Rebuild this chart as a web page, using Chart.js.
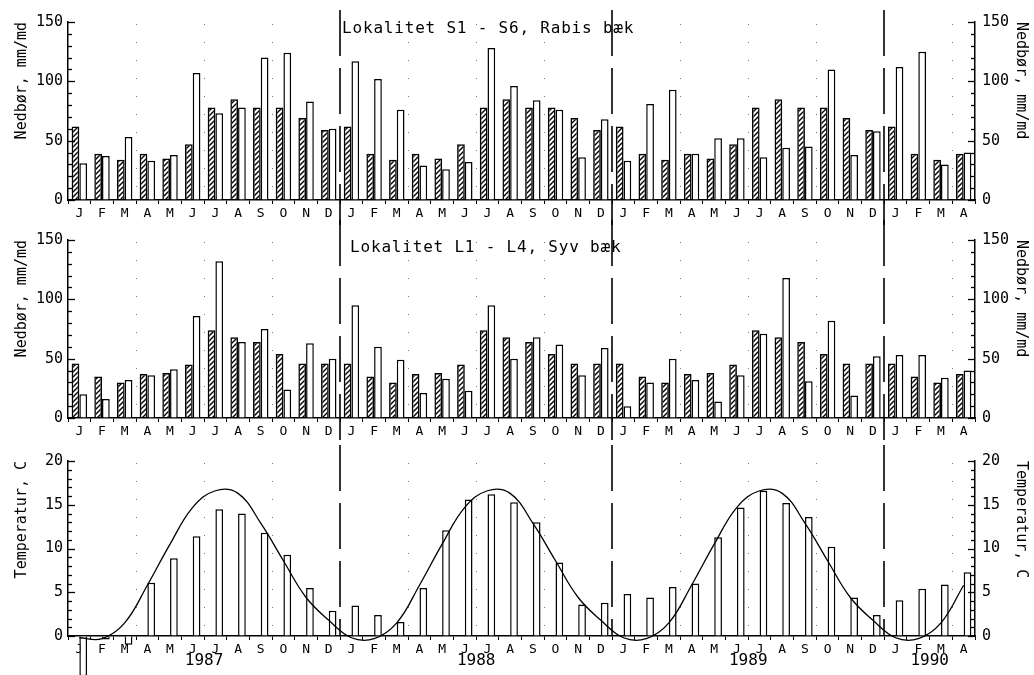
<!DOCTYPE html>
<html lang="da">
<head>
<meta charset="utf-8">
<title>Nedbør og temperatur 1987-1990</title>
<script src="https://cdn.jsdelivr.net/npm/chart.js@4.4.1/dist/chart.umd.min.js"></script>
<style>
  html, body { margin: 0; padding: 0; background: #fff; }
  #wrap { position: relative; width: 1034px; height: 675px; overflow: hidden; }
  canvas { position: absolute; left: 0; }
  #rabisChart { top: 0; }
  #syvChart { top: 220px; }
  #tempChart { top: 445px; }
</style>
</head>
<body>
<div id="wrap">
  <canvas id="rabisChart" width="1034" height="225"></canvas>
  <canvas id="syvChart" width="1034" height="225"></canvas>
  <canvas id="tempChart" width="1034" height="230"></canvas>
</div>
<script>
// ==== DATA ====
const monthLetters = ["J", "F", "M", "A", "M", "J", "J", "A", "S", "O", "N", "D"];
const months = [...monthLetters, ...monthLetters, ...monthLetters, ...monthLetters.slice(0, 4)];
const years = ["1987", "1988", "1989", "1990"];

// Nedbør, Rabis bæk (mm/md): normal (skraveret) og målt (hvid)
const rabisNormal = [
  62, 39, 34, 39, 35, 47, 78, 85, 78, 78, 69, 59,
  62, 39, 34, 39, 35, 47, 78, 85, 78, 78, 69, 59,
  62, 39, 34, 39, 35, 47, 78, 85, 78, 78, 69, 59,
  62, 39, 34, 39
];
const rabisMaalt = [
  31, 37, 53, 33, 38, 107, 73, 78, 120, 124, 83, 60,
  117, 102, 76, 29, 26, 32, 128, 96, 84, 76, 36, 68,
  33, 81, 93, 39, 52, 52, 36, 44, 45, 110, 38, 58,
  112, 125, 30, 40
];

// Nedbør, Syv bæk (mm/md)
const syvNormal = [
  46, 35, 30, 37, 38, 45, 74, 68, 64, 54, 46, 46,
  46, 35, 30, 37, 38, 45, 74, 68, 64, 54, 46, 46,
  46, 35, 30, 37, 38, 45, 74, 68, 64, 54, 46, 46,
  46, 35, 30, 37
];
const syvMaalt = [
  20, 16, 32, 36, 41, 86, 132, 64, 75, 24, 63, 50,
  95, 60, 49, 21, 33, 23, 95, 50, 68, 62, 36, 59,
  10, 30, 50, 32, 14, 36, 71, 118, 31, 82, 19, 52,
  53, 53, 34, 40
];

// Temperatur (C): målt (søjler) og normal (kurve)
const tempMaalt = [
  -4.6, -0.4, -1.0, 6.1, 8.9, 11.4, 14.5, 14.0, 11.8, 9.3, 5.5, 2.9,
  3.5, 2.4, 1.6, 5.5, 12.1, 15.6, 16.2, 15.3, 13.0, 8.4, 3.6, 3.8,
  4.8, 4.4, 5.6, 6.0, 11.3, 14.7, 16.6, 15.2, 13.6, 10.2, 4.4, 2.4,
  4.1, 5.4, 5.9, 7.3
];
const tempNormal = [
  -0.2, -0.3, 1.5, 5.8, 10.5, 14.7, 16.6, 16.3, 12.9, 8.6, 4.4, 1.8,
  -0.2, -0.3, 1.5, 5.8, 10.5, 14.7, 16.6, 16.3, 12.9, 8.6, 4.4, 1.8,
  -0.2, -0.3, 1.5, 5.8, 10.5, 14.7, 16.6, 16.3, 12.9, 8.6, 4.4, 1.8,
  -0.2, -0.3, 1.5, 5.8
];
const emptySlot = months.map(() => null);

const MONO = "'DejaVu Sans Mono', monospace";

// ==== HJÆLPEFUNKTIONER ====
function line(ctx, x1, y1, x2, y2) {
  ctx.beginPath();
  ctx.moveTo(x1, y1);
  ctx.lineTo(x2, y2);
  ctx.stroke();
}

function makeHatch() {
  const c = document.createElement("canvas");
  c.width = 5;
  c.height = 5;
  const g = c.getContext("2d");
  g.strokeStyle = "#000";
  g.lineWidth = 1.4;
  g.beginPath();
  g.moveTo(0, 5); g.lineTo(5, 0);
  g.moveTo(-1, 1); g.lineTo(1, -1);
  g.moveTo(4, 6); g.lineTo(6, 4);
  g.stroke();
  return g.createPattern(c, "repeat");
}

// prikkede hjælpelinjer, stiplede årsskel, indadvendte tick-streger, titler
const panelDecor = {
  id: "panelDecor",
  beforeDatasetsDraw(chart, args, opts) {
    const { ctx, chartArea: a } = chart;
    const x = chart.scales.x;
    ctx.save();
    ctx.strokeStyle = "#777";
    ctx.lineWidth = 1;
    ctx.setLineDash([1, 17]);
    for (let i = 3; i < months.length; i += 3) {
      if (i % 12 === 0) continue;
      const px = Math.round(x.getPixelForValue(i - 0.5)) + 0.5;
      line(ctx, px, a.top + 2, px, a.bottom);
    }
    ctx.strokeStyle = "#000";
    ctx.lineWidth = 1.6;
    ctx.setLineDash([46, 12]);
    for (let i = 12; i < months.length; i += 12) {
      const px = Math.round(x.getPixelForValue(i - 0.5));
      line(ctx, px, opts.sepTop, px, opts.sepToAxis ? a.bottom : chart.height);
    }
    ctx.restore();
  },
  afterDraw(chart, args, opts) {
    const { ctx, chartArea: a } = chart;
    const x = chart.scales.x;
    ctx.save();
    ctx.strokeStyle = "#000";
    ctx.lineWidth = 1.3;
    ["y", "y2"].forEach((id) => {
      const s = chart.scales[id];
      s.ticks.forEach((t) => {
        const py = Math.round(s.getPixelForValue(t.value)) + 0.5;
        const len = t.value % opts.major === 0 ? 7 : 4;
        if (id === "y") line(ctx, a.left, py, a.left + len, py);
        else line(ctx, a.right - len, py, a.right, py);
      });
    });

    ctx.fillStyle = "#000";
    if (opts.title) {
      ctx.font = "16px " + MONO;
      ctx.letterSpacing = "0.8px";
      ctx.textAlign = "left";
      ctx.textBaseline = "middle";
      ctx.fillText(opts.title, x.getPixelForValue(11.5) + opts.titleDx, a.top + opts.titleDy);
    }
    if (opts.years) {
      ctx.font = "16px " + MONO;
      ctx.letterSpacing = "0px";
      ctx.textAlign = "center";
      ctx.textBaseline = "middle";
      years.forEach((yr, i) => {
        const first = 12 * i;
        const last = Math.min(12 * i + 11, months.length - 1);
        ctx.fillText(yr, x.getPixelForValue((first + last) / 2), a.bottom + 25);
      });
    }
    ctx.restore();
  },
};

function yAxis(position, max, step, major, title, width) {
  return {
    type: "linear",
    position: position,
    min: 0,
    max: max,
    afterFit: (s) => { s.width = width; },
    border: { display: true, color: "#000", width: 1.5 },
    grid: { drawOnChartArea: false, drawTicks: false },
    ticks: {
      stepSize: step,
      autoSkip: false,
      padding: position === "left" ? 5 : 7,
      color: "#000",
      font: { family: MONO, size: 15 },
      callback: (v) => (v % major === 0 ? v : ""),
    },
    title: {
      display: true,
      text: title,
      align: "end",
      color: "#000",
      font: { family: MONO, size: 15 },
      padding: { top: position === "left" ? 13 : 4, bottom: 0 },
    },
  };
}

function xAxis(height) {
  return {
    type: "category",
    offset: true,
    afterFit: (s) => { s.height = height; },
    border: { display: true, color: "#000", width: 1.5 },
    grid: { offset: true, drawOnChartArea: false, tickLength: 4, color: "#000" },
    ticks: {
      autoSkip: false,
      maxRotation: 0,
      padding: 2,
      color: "#000",
      font: { family: MONO, size: 13 },
    },
  };
}

function baseOptions(padTop, xHeight, yMax, yStep, yMajor, yTitle, decor) {
  return {
    responsive: false,
    animation: false,
    layout: { padding: { top: padTop, left: 0, right: 0, bottom: 0 } },
    plugins: {
      legend: { display: false },
      tooltip: { enabled: false },
      panelDecor: decor,
    },
    scales: {
      x: xAxis(xHeight),
      y: yAxis("left", yMax, yStep, yMajor, yTitle, 68),
      y2: yAxis("right", yMax, yStep, yMajor, yTitle, 59),
    },
  };
}

// ==== TEGN DIAGRAMMER ====
function renderRain(canvasId, normal, maalt, padTop, xHeight, decor) {
  const hatch = makeHatch();
  new Chart(document.getElementById(canvasId), {
    type: "bar",
    data: {
      labels: months,
      datasets: [
        {
          label: "Normal",
          data: normal,
          backgroundColor: hatch,
          borderColor: "#000",
          borderWidth: 1.5,
          categoryPercentage: 0.68,
          barPercentage: 1.0,
        },
        {
          label: "Målt",
          data: maalt,
          backgroundColor: "#fff",
          borderColor: "#000",
          borderWidth: 1.5,
          categoryPercentage: 0.68,
          barPercentage: 1.0,
        },
      ],
    },
    options: baseOptions(padTop, xHeight, 150, 10, 50, "Nedbør, mm/md", decor),
    plugins: [panelDecor],
  });
}

function renderTemp() {
  new Chart(document.getElementById("tempChart"), {
    type: "bar",
    data: {
      labels: months,
      datasets: [
        {
          type: "line",
          label: "Normal",
          data: tempNormal,
          borderColor: "#000",
          borderWidth: 1.3,
          pointRadius: 0,
          tension: 0.4,
          clip: false,
        },
        {
          label: "",
          data: emptySlot,
          categoryPercentage: 0.68,
          barPercentage: 1.0,
        },
        {
          label: "Målt",
          data: tempMaalt,
          backgroundColor: "#fff",
          borderColor: "#000",
          borderWidth: 1.5,
          categoryPercentage: 0.68,
          barPercentage: 1.0,
          clip: false,
        },
      ],
    },
    options: baseOptions(11, 39, 20, 1, 5, "Temperatur, C", {
      major: 5, sepTop: 0, sepToAxis: true, years: true,
    }),
    plugins: [panelDecor],
  });
}

renderRain("rabisChart", rabisNormal, rabisMaalt, 22, 25, {
  major: 50, sepTop: 10, sepToAxis: false,
  title: "Lokalitet S1 - S6, Rabis bæk", titleDx: 2, titleDy: 7,
});
renderRain("syvChart", syvNormal, syvMaalt, 20, 27, {
  major: 50, sepTop: 0, sepToAxis: false,
  title: "Lokalitet L1 - L4, Syv bæk", titleDx: 10, titleDy: 8,
});
renderTemp();
</script>
</body>
</html>
